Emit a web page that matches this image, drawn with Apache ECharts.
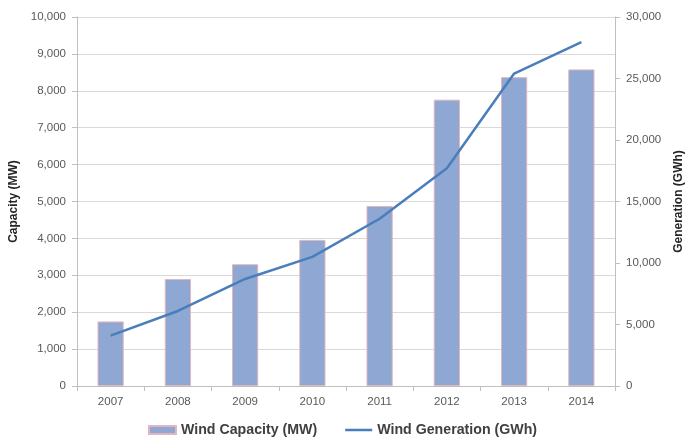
<!DOCTYPE html>
<html>
<head>
<meta charset="utf-8">
<script src="https://cdn.jsdelivr.net/npm/echarts@6/dist/echarts.min.js"></script>
<style>
  html, body { margin: 0; padding: 0; background: #fff; }
  #chart { width: 685px; height: 437px; }
</style>
</head>
<body>
<div id="chart"></div>
<script>
// Installed wind capacity and annual wind generation, 2007-2014
const years = ['2007', '2008', '2009', '2010', '2011', '2012', '2013', '2014'];
const capacityMW = [1750, 2900, 3300, 3960, 4880, 7760, 8370, 8580];
const generationGWh = [4100, 6100, 8700, 10500, 13600, 17700, 25400, 27950];

const labelFont = 'Liberation Sans, Arial, sans-serif';
const gray = '#595959';
const fmt = v => v.toLocaleString('en-US');

const chart = echarts.init(document.getElementById('chart'));
chart.setOption({
  animation: false,
  grid: { left: 77, right: 70, top: 17, bottom: 51, outerBoundsMode: 'none' },
  legend: {
    bottom: -5,
    left: 'center',
    itemGap: 28,
    itemWidth: 27,
    itemHeight: 8,
    textStyle: { fontFamily: labelFont, fontWeight: 'bold', fontSize: 14.2, color: '#404040' },
    data: [
      { name: 'Wind Capacity (MW)', icon: 'rect' },
      { name: 'Wind Generation (GWh)', icon: 'path://M0,0 L28,0 L28,2.6 L0,2.6 Z', itemStyle: { color: '#4a7ebb' } }
    ]
  },
  xAxis: {
    type: 'category',
    data: years,
    axisLine: { lineStyle: { color: '#bfbfbf' } },
    axisTick: { show: true, alignWithLabel: false, length: 5, lineStyle: { color: '#bfbfbf' } },
    axisLabel: { fontFamily: labelFont, fontSize: 11.5, color: gray, margin: 10 }
  },
  yAxis: [
    {
      type: 'value',
      min: 0, max: 10000, interval: 1000,
      name: 'Capacity (MW)',
      nameLocation: 'middle',
      nameGap: 55,
      nameTextStyle: { fontFamily: labelFont, fontWeight: 'bold', fontSize: 12, color: '#262626' },
      axisLine: { show: true, lineStyle: { color: '#bfbfbf' } },
      axisTick: { show: true, length: 5, lineStyle: { color: '#bfbfbf' } },
      axisLabel: { fontFamily: labelFont, fontSize: 11.5, color: gray, margin: 11, formatter: fmt },
      splitLine: { lineStyle: { color: '#d9d9d9' } }
    },
    {
      type: 'value',
      min: 0, max: 30000, interval: 5000,
      name: 'Generation (GWh)',
      nameLocation: 'middle',
      nameGap: 58,
      nameRotate: 90,
      nameTextStyle: { fontFamily: labelFont, fontWeight: 'bold', fontSize: 12, color: '#262626' },
      axisLine: { show: true, lineStyle: { color: '#bfbfbf' } },
      axisTick: { show: true, length: 5, lineStyle: { color: '#bfbfbf' } },
      axisLabel: { fontFamily: labelFont, fontSize: 11.5, color: gray, margin: 11, formatter: fmt },
      splitLine: { show: false }
    }
  ],
  series: [
    {
      name: 'Wind Capacity (MW)',
      type: 'bar',
      yAxisIndex: 0,
      data: capacityMW,
      barWidth: '39%',
      itemStyle: { color: '#8ea7d3', borderColor: '#e3b6bd', borderWidth: 1 }
    },
    {
      name: 'Wind Generation (GWh)',
      type: 'line',
      yAxisIndex: 1,
      data: generationGWh,
      showSymbol: false,
      symbol: 'none',
      lineStyle: { color: '#4a7ebb', width: 2.5 },
      itemStyle: { color: '#4a7ebb' }
    }
  ]
});
</script>
</body>
</html>
